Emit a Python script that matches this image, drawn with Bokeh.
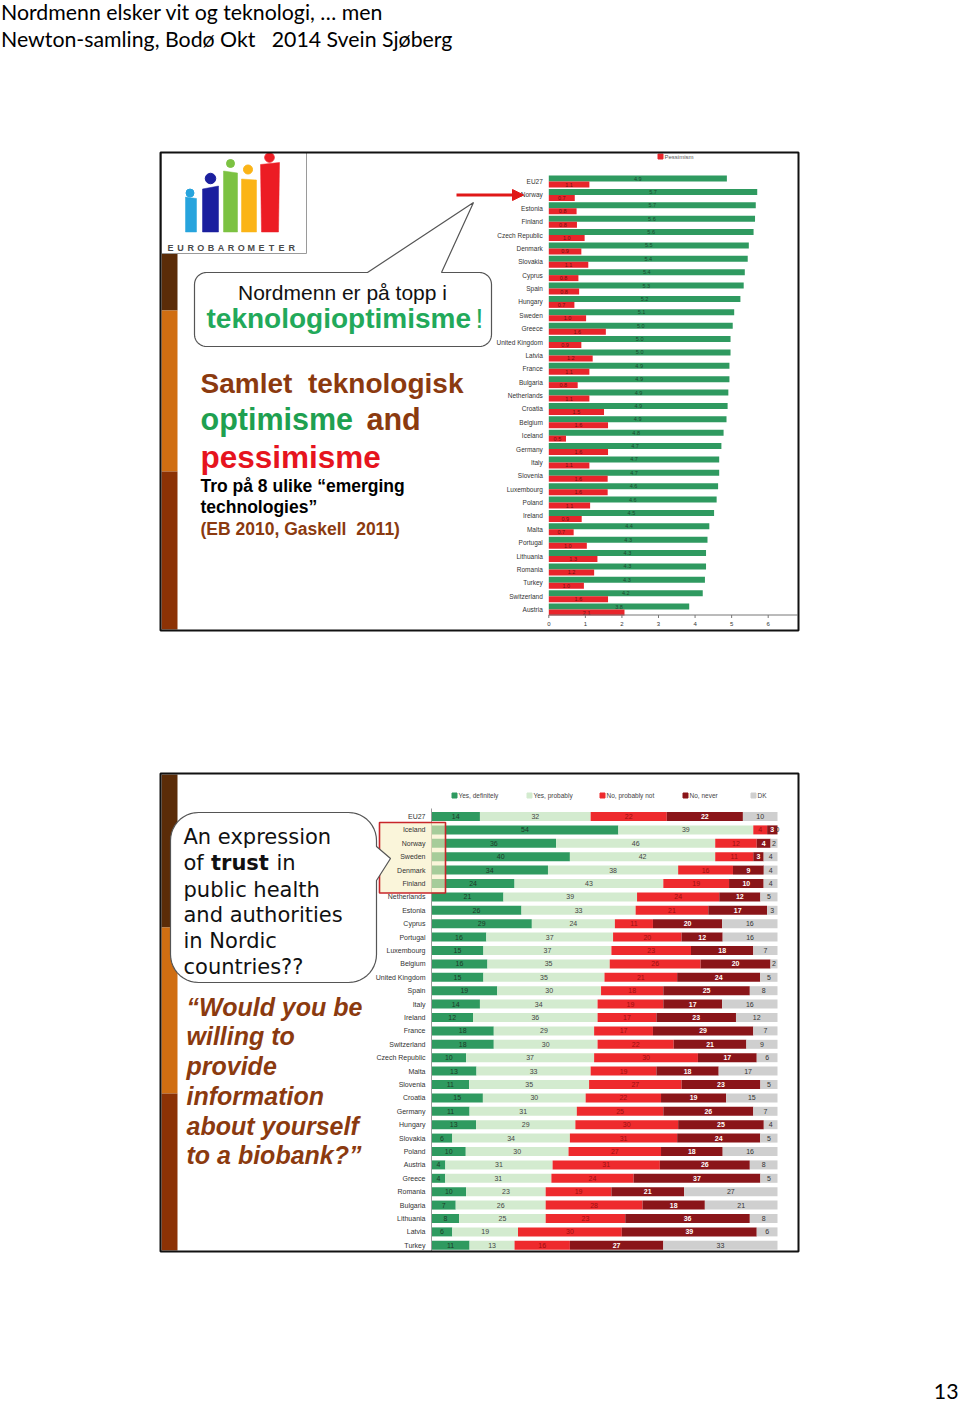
import numpy as np
from bokeh.plotting import figure
from bokeh.models import Range1d, Arrow, NormalHead
from bokeh.core.properties import value
from bokeh.embed import file_html
from bokeh.resources import INLINE

# ---------------- data ----------------
NB = "\u00a0"
title_lines = ["Nordmenn elsker vit og teknologi, \u2026 men",
               "Newton-samling, Bod\u00f8 Okt" + NB * 3 + "2014 Svein Sj\u00f8berg"]
page_number = "13"

# Slide 1: technological optimism / pessimism (EB 2010)
c1_countries = ["EU27", "Norway", "Estonia", "Finland", "Czech Republic", "Denmark",
                "Slovakia", "Cyprus", "Spain", "Hungary", "Sweden", "Greece",
                "United Kingdom", "Latvia", "France", "Bulgaria", "Netherlands",
                "Croatia", "Belgium", "Iceland", "Germany", "Italy", "Slovenia",
                "Luxembourg", "Poland", "Ireland", "Malta", "Portugal", "Lithuania",
                "Romania", "Turkey", "Switzerland", "Austria"]
c1_optimism = [4.87, 5.70, 5.66, 5.64, 5.60, 5.47, 5.44, 5.36, 5.33, 5.24, 5.07, 5.03,
               4.97, 4.97, 4.94, 4.94, 4.91, 4.89, 4.86, 4.78, 4.72, 4.66, 4.66,
               4.63, 4.59, 4.52, 4.39, 4.34, 4.30, 4.30, 4.27, 4.21, 3.84]
c1_pessimism = [1.11, 0.71, 0.76, 0.77, 0.98, 0.89, 1.08, 0.81, 0.83, 0.70, 1.02, 1.56,
                0.89, 1.20, 1.11, 0.79, 1.11, 1.51, 1.62, 0.47, 1.62, 1.11, 1.61,
                1.61, 1.13, 0.90, 0.68, 1.04, 1.33, 1.24, 0.96, 1.62, 2.07]
c1_ticks = [0, 1, 2, 3, 4, 5, 6]
c1_legend = "Pessimism"

# Slide 2: willingness to provide information to a biobank
c2_countries = ["EU27", "Iceland", "Norway", "Sweden", "Denmark", "Finland", "Netherlands",
                "Estonia", "Cyprus", "Portugal", "Luxembourg", "Belgium", "United Kingdom",
                "Spain", "Italy", "Ireland", "France", "Switzerland", "Czech Republic",
                "Malta", "Slovenia", "Croatia", "Germany", "Hungary", "Slovakia", "Poland",
                "Austria", "Greece", "Romania", "Bulgaria", "Lithuania", "Latvia", "Turkey"]
c2_yes_definitely = [14, 54, 36, 40, 34, 24, 21, 26, 29, 16, 15, 16, 15, 19, 14, 12, 18,
                     18, 10, 13, 11, 15, 11, 13, 6, 10, 4, 4, 10, 7, 8, 6, 11]
c2_yes_probably = [32, 39, 46, 42, 38, 43, 39, 33, 24, 37, 37, 35, 35, 30, 34, 36, 29,
                   30, 37, 33, 35, 30, 31, 29, 34, 30, 31, 31, 23, 26, 25, 19, 13]
c2_no_probably_not = [22, 4, 12, 11, 16, 19, 24, 21, 11, 20, 23, 26, 21, 18, 19, 17, 17,
                      22, 30, 19, 27, 22, 25, 30, 31, 27, 31, 24, 19, 28, 23, 30, 16]
c2_no_never = [22, 3, 4, 3, 9, 10, 12, 17, 20, 12, 18, 20, 24, 25, 17, 23, 29,
               21, 17, 18, 23, 19, 26, 25, 24, 18, 26, 37, 21, 18, 36, 39, 27]
c2_dk = [10, 0, 2, 4, 4, 4, 5, 3, 16, 16, 7, 2, 5, 8, 16, 12, 7,
         9, 6, 17, 5, 15, 7, 4, 5, 16, 8, 5, 27, 21, 8, 6, 33]
c2_series = ["Yes, definitely", "Yes, probably", "No, probably not", "No, never", "DK"]

# ---------------- styles ----------------
GREEN = "#2f9a60"
RED = "#e8252b"
c2_colors = ["#2f9a60", "#d3ebcf", "#ee2a2d", "#8a1519", "#cfcfcf"]
c2_label_colors = ["#1d3b29", "#444444", "#9c1010", "white", "#333333"]
BROWN = "#8b3a0f"
ARIAL = value("Liberation Sans")
LATO = value("Lato")
VERD = value("DejaVu Sans")
MID = {"Liberation Sans": 0.35, "Lato": 0.39, "DejaVu Sans": 0.35}

W, H = 960, 1406
PX0, PX1 = 0, W
PY0, PY1 = 0, H

p = figure(width=W, height=H, x_range=Range1d(PX0, PX1), y_range=Range1d(PY1, PY0),
           output_backend="svg", toolbar_location=None, x_axis_location=None,
           y_axis_location=None, min_border=0, outline_line_color=None,
           background_fill_color="white", border_fill_color="white")
p.grid.visible = False


def lin_range(p0, p1, v0, v1, a, b):
    k = (v1 - v0) / (p1 - p0)
    return Range1d(start=v0 + (a - p0) * k, end=v0 + (b - p0) * k)


# chart scales placed inside the page
C1_X0, C1_X6 = 548.3, 767.7
C1_Y0, C1_DY = 181.0, 13.375
C2_X0, C2_X100 = 431.0, 777.0
C2_Y0, C2_DY = 816.0, 13.4
p.extra_x_ranges = {"c1x": lin_range(C1_X0, C1_X6, 0, 6, PX0, PX1),
                    "c2x": lin_range(C2_X0, C2_X100, 0, 100, PX0, PX1)}
p.extra_y_ranges = {"c1y": lin_range(C1_Y0, C1_Y0 + C1_DY, 0, 1, PY1, PY0),
                    "c2y": lin_range(C2_Y0, C2_Y0 + C2_DY, 0, 1, PY1, PY0)}


def txt(x, base, s, size, color="black", font=ARIAL, style="normal", align="left"):
    """Place a text by its alphabetic baseline (rendered with a middle baseline)."""
    y = base - MID[font.value] * size
    p.text(x=[x], y=[y], text=[s], text_font=font, text_font_size=f"{size}px",
           text_font_style=style, text_color=color, text_align=align,
           text_baseline="middle")


def bubble(x0, y0, x1, y1, r, pointer, side):
    pts = []

    def arc(cx, cy, a0, a1):
        t = np.linspace(a0, a1, 12)
        return list(zip(cx + r * np.cos(t), cy + r * np.sin(t)))
    pts += arc(x0 + r, y0 + r, np.pi, 1.5 * np.pi)
    if side == "top":
        pts += pointer
    pts += arc(x1 - r, y0 + r, 1.5 * np.pi, 2 * np.pi)
    if side == "right":
        pts += pointer
    pts += arc(x1 - r, y1 - r, 0, 0.5 * np.pi)
    pts += arc(x0 + r, y1 - r, 0.5 * np.pi, np.pi)
    xs, ys = zip(*pts)
    return list(xs), list(ys)


# ---------------- page title ----------------
txt(0.5, 19.5, title_lines[0], 21.3, font=LATO)
txt(0.5, 46.5, title_lines[1], 21.3, font=LATO)
txt(958, 1399, page_number, 21.3, font=LATO, align="right")

# ---------------- slide frames ----------------
for top, bot in [(152, 630), (773, 1251)]:
    p.quad(left=160, right=798, top=top, bottom=bot, fill_color="white",
           line_color=None)

# left stripes
stripe_segments = [(152, 310, "#5b2c08"), (310, 471, "#d06e12"), (471, 629, "#8c3205"),
                   (774, 927, "#5b2c08"), (927, 1093, "#d06e12"), (1093, 1250, "#8c3205")]
for t, b, c in stripe_segments:
    p.quad(left=161, right=177, top=t, bottom=b, fill_color=c, line_color=None)

# ---------------- slide 1: logo ----------------
p.quad(left=161, right=306, top=152, bottom=253, fill_color="white",
       line_color="#9a9a9a", line_width=1)
logo_bars = [([185, 196, 196, 185], [196.5, 198, 231.5, 231.5], "#27a4dd"),
             ([202, 218, 218, 202], [188.5, 185.5, 231.5, 231.5], "#1b1f9e"),
             ([223, 237, 237, 223], [170.5, 172.5, 231.5, 231.5], "#7cc242"),
             ([241, 256, 256, 241], [178.5, 179.5, 231.5, 231.5], "#fbb417"),
             ([260, 279, 278, 261], [164, 162, 231.5, 231.5], "#ec1c24")]
for xs, ys, c in logo_bars:
    p.patch(xs, ys, fill_color=c, line_color=c, line_width=0.5)
p.scatter(x=[189.5, 210, 230, 247.5, 269], y=[192.5, 178, 163, 169, 157],
          size=[8, 10.5, 8, 9, 9.5],
          color=["#27a4dd", "#1b1f9e", "#7cc242", "#fbb417", "#ec1c24"])
for i, ch in enumerate("EUROBAROMETER"):
    txt(170 + 10.1 * i, 250.7, ch, 9, color="#4a4a4a", style="bold", align="center")

# ---------------- slide 1: chart ----------------
idx1 = np.arange(len(c1_countries))
opt = np.array(c1_optimism)
pes = np.array(c1_pessimism)
BH = 6 / C1_DY
p.hbar(y=idx1 - BH / 2, left=0, right=opt, height=BH, fill_color=GREEN,
       line_color=None, x_range_name="c1x", y_range_name="c1y")
p.hbar(y=idx1 + BH / 2, left=0, right=pes, height=BH, fill_color=RED,
       line_color=None, x_range_name="c1x", y_range_name="c1y")
p.text(x=opt / 2, y=idx1 - BH / 2, text=[f"{v:.1f}" for v in opt], text_font=ARIAL,
       text_font_size="5.5px", text_color="#1b4a2f", text_align="center",
       text_baseline="middle", x_range_name="c1x", y_range_name="c1y")
p.text(x=pes / 2, y=idx1 + BH / 2, text=[f"{v:.1f}" for v in pes], text_font=ARIAL,
       text_font_size="5.5px", text_color="#701010", text_align="center",
       text_baseline="middle", x_range_name="c1x", y_range_name="c1y")
p.text(x=0, y=idx1, text=c1_countries, text_font=ARIAL, text_font_size="6.5px",
       text_color="#333333", text_align="right", text_baseline="middle", x_offset=-6,
       x_range_name="c1x", y_range_name="c1y")
# x axis
p.segment(x0=0, x1=6.8, y0=614.5, y1=614.5, line_color="#777777", line_width=1,
          x_range_name="c1x")
p.segment(x0=c1_ticks, x1=c1_ticks, y0=614.5, y1=617.5, line_color="#777777",
          line_width=1, x_range_name="c1x")
p.text(x=c1_ticks, y=623.5, text=[str(t) for t in c1_ticks], text_font=ARIAL,
       text_font_size="6px", text_color="#333333", text_align="center",
       text_baseline="middle", x_range_name="c1x")
# legend
p.scatter(x=[660], y=[156], marker="square", size=5, color=RED)
p.text(x=[664], y=[156], text=[c1_legend], text_font=ARIAL, text_font_size="6px",
       text_color="#555555", text_baseline="middle")

# ---------------- slide 1: texts ----------------
bx, by = bubble(194, 272, 491, 346, 12, [(367, 272), (473, 202), (441, 272)], "top")
p.patch(bx, by, fill_color="white", line_color="#555555", line_width=1.2)
txt(342, 299, "Nordmenn er p\u00e5 topp i", 21, color="#111111", align="center")
txt(206, 328, "teknologioptimisme", 28, color="#22a95a", style="bold")
txt(475, 328, "!", 28, color="#22a95a")

txt(200, 393, "Samlet" + NB * 2 + "teknologisk", 28, color=BROWN, style="bold")
txt(200, 429.5, "optimisme", 30.5, color="#1ea050", style="bold")
txt(366, 429.5, "and", 30.5, color=BROWN, style="bold")
txt(200, 467.5, "pessimisme", 31.5, color="#e6141e", style="bold")
txt(200, 492, "Tro p\u00e5 8 ulike \u201cemerging", 17.5, color="black", style="bold")
txt(200, 513, "technologies\u201d", 17.5, color="black", style="bold")
txt(200, 534.5, "(EB 2010, Gaskell" + NB * 2 + "2011)", 17.5, color=BROWN, style="bold")

arrow = Arrow(end=NormalHead(size=11, fill_color="#e01818", line_color="#e01818"),
              x_start=456, y_start=194.5, x_end=523, y_end=194.5,
              line_color="#e01818", line_width=3)
p.add_layout(arrow)

# ---------------- slide 2: chart ----------------
idx2 = np.arange(len(c2_countries))
vals = np.array([c2_yes_definitely, c2_yes_probably, c2_no_probably_not, c2_no_never,
                 c2_dk], dtype=float)
share = vals / vals.sum(axis=0) * 100
cum = np.cumsum(share, axis=0)
left = cum - share
BH2 = 9 / C2_DY
for k in range(len(c2_series)):
    p.hbar(y=idx2, left=left[k], right=cum[k], height=BH2, fill_color=c2_colors[k],
           line_color=None, x_range_name="c2x", y_range_name="c2y")
for k in range(len(c2_series)):
    p.text(x=(left[k] + cum[k]) / 2, y=idx2, text=[str(int(v)) for v in vals[k]],
           text_font=ARIAL, text_font_size="7px", text_color=c2_label_colors[k],
           text_font_style="bold" if k == 3 else "normal",
           text_align="center", text_baseline="middle",
           x_range_name="c2x", y_range_name="c2y")
p.segment(x0=0, x1=0, y0=808, y1=1251, line_color="#9a9a9a", line_width=1,
          x_range_name="c2x")

# Nordic highlight
p.quad(left=379, right=445, top=822, bottom=892.5, fill_color="#f6efc2",
       fill_alpha=0.6, line_color="#c8262a", line_width=1.6)
p.text(x=0, y=idx2, text=c2_countries, text_font=ARIAL, text_font_size="7px",
       text_color="#333333", text_align="right", text_baseline="middle", x_offset=-6,
       x_range_name="c2x", y_range_name="c2y")

# legend
leg_x = [454, 529, 602, 685, 753]
p.scatter(x=leg_x, y=[795] * 5, marker="square", size=5, color=c2_colors)
p.text(x=[x + 4 for x in leg_x], y=[795] * 5, text=c2_series, text_font=ARIAL,
       text_font_size="6.5px", text_color="#444444", text_baseline="middle")

# ---------------- slide 2: texts ----------------
bx2, by2 = bubble(170, 812, 376, 982, 28, [(376, 846), (390, 858), (376, 880)], "right")
p.patch(bx2, by2, fill_color="white", line_color="#555555", line_width=1.2)
bubble_lines = [(844, "An expression"), (896.5, "public health"),
                (921.5, "and authorities"), (948, "in Nordic"), (973.5, "countries??")]
for y, s in bubble_lines:
    txt(183, y, s, 21, color="#111111", font=VERD)
txt(183, 870, "of", 21, color="#111111", font=VERD)
txt(210.5, 870, "trust", 21, color="#111111", font=VERD, style="bold")
txt(276, 870, "in", 21, color="#111111", font=VERD)

question = ["\u201cWould you be", "willing to", "provide", "information",
            "about yourself", "to a biobank?\u201d"]
for i, s in enumerate(question):
    txt(186, 1015 + 29.7 * i, s, 25, color=BROWN, style="bold italic")

# slide borders on top
for top, bot in [(152, 630), (773, 1251)]:
    p.quad(left=160, right=798, top=top, bottom=bot, fill_color=None,
           line_color="#111111", line_width=2)

open("out.html", "w").write(file_html(p, INLINE))
